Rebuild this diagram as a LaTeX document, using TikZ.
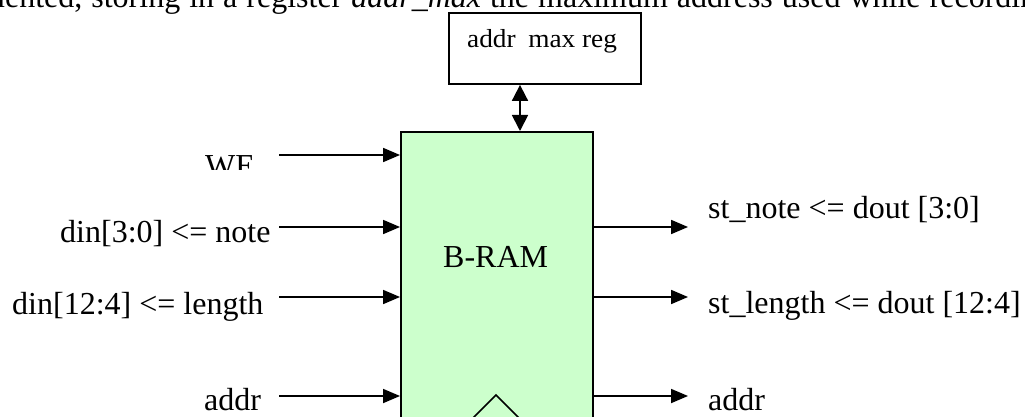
\documentclass[tikz,border=0pt]{standalone}
\usepackage{fontspec}
\setmainfont{Liberation Serif}
\usetikzlibrary{arrows.meta}
\definecolor{ramgreen}{HTML}{CCFFCC}
\begin{document}
\begin{tikzpicture}[x=1pt,y=-1pt,
  sig/.style={line width=1.8pt,-{Triangle[length=17pt,width=14pt]}},
  lbl/.style={inner sep=0pt,anchor=base west,font=\fontsize{32}{38}\selectfont},
  boxline/.style={draw,line width=1.9pt,inner sep=0pt,anchor=north west}]
\useasboundingbox (0,0) rectangle (1025,417);
% cropped body text line at the top
\node[lbl] (body) at (-20,7.5) {\spaceskip=9pt\relax mented, storing in a register \textit{addr\_max} the maximum address used while recording};
% register box
\node[boxline,minimum width=192pt,minimum height=71pt] (reg) at (448,12) {};
\node[inner sep=0pt,anchor=base west,font=\fontsize{26}{30}\selectfont] (reglbl) at (467,48) {\scalebox{1.05}[1]{addr\hspace{12pt}max reg}};
% B-RAM box
\node[boxline,fill=ramgreen,minimum width=192pt,minimum height=320pt] (bram) at (400,131) {};
\node[lbl] (bramlbl) at (443,267) {B-RAM};
\draw[line width=1.5pt] (446,445) -- (496,395) -- (546,445);
% bidirectional link
\path (reg.south west) ++(72,0) coordinate (regport);
\draw[line width=1.8pt,{Triangle[length=16pt,width=16pt]}-{Triangle[length=16pt,width=16pt]}] (regport) -- (regport |- bram.north);
% inputs
\begin{scope}
\clip (190,140) rectangle (275,169);
\node[lbl] (we) at (205,176) {WE};
\end{scope}
\node[lbl] (dinnote) at (60,242) {din[3:0] <= note};
\node[lbl] (dinlen) at (12,314) {din[12:4] <= length};
\node[lbl] (addrin) at (204,410) {addr};
\coordinate (we-s) at (279,155);
\coordinate (dn-s) at (279,227);
\coordinate (dl-s) at (279,297);
\coordinate (ad-s) at (279,396);
\draw[sig] (we-s) -- (we-s -| bram.west);
\draw[sig] (dn-s) -- (dn-s -| bram.west);
\draw[sig] (dl-s) -- (dl-s -| bram.west);
\draw[sig] (ad-s) -- (ad-s -| bram.west);
% outputs
\node[lbl] (stnote) at (708,218) {st\_note <= dout [3:0]};
\node[lbl] (stlen) at (708,313) {st\_length <= dout [12:4]};
\node[lbl] (addrout) at (708,410) {addr};
\coordinate (sn-e) at (688,227);
\coordinate (sl-e) at (688,297);
\coordinate (ao-e) at (688,396);
\draw[sig] (sn-e -| bram.east) -- (sn-e);
\draw[sig] (sl-e -| bram.east) -- (sl-e);
\draw[sig] (ao-e -| bram.east) -- (ao-e);
\end{tikzpicture}
\end{document}
